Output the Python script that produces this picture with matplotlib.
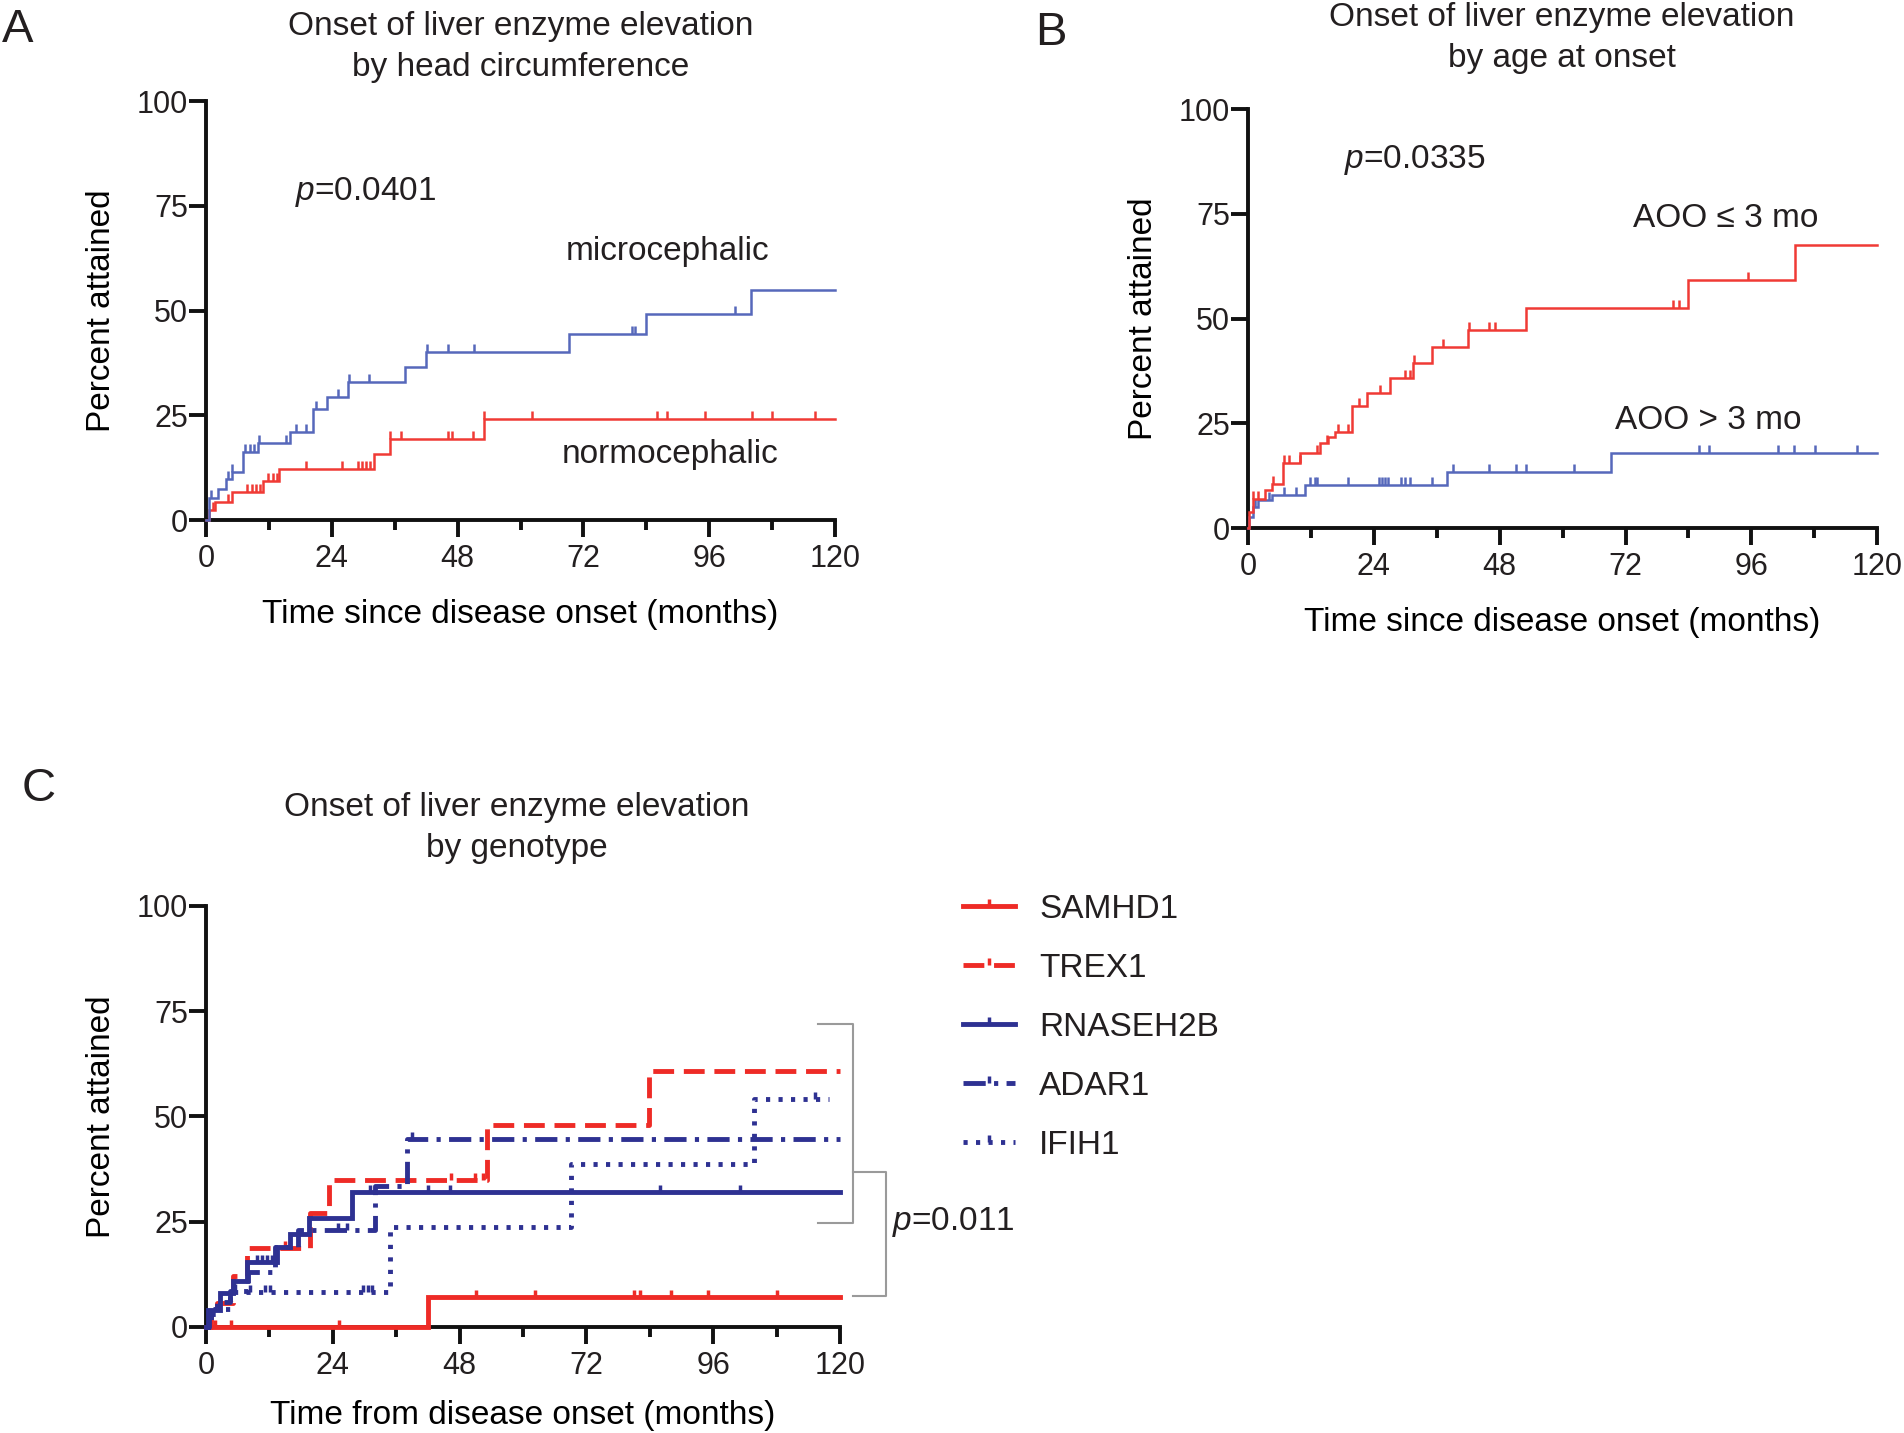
import numpy as np
import matplotlib
matplotlib.use("Agg")
import matplotlib.pyplot as plt
from matplotlib.lines import Line2D

plt.rcParams['font.family'] = ['Liberation Sans', 'DejaVu Sans']
plt.rcParams['mathtext.fontset'] = 'custom'
plt.rcParams['mathtext.it'] = 'Liberation Sans:italic'
plt.rcParams['mathtext.rm'] = 'Liberation Sans'
plt.rcParams['lines.scale_dashes'] = False
plt.rcParams['text.color'] = '#231f20'

# ---- Panel A: head circumference ----
micro_t = [0, 0.6, 2.2, 3.8, 5.0, 7.1, 9.9, 16.0, 20.5, 23.1, 27.1, 37.9, 41.9, 69.2, 84.0, 104.0]
micro_y = [0, 5.2, 7.5, 9.9, 11.5, 16.2, 18.3, 21.0, 26.6, 29.4, 32.9, 36.5, 40.1, 44.3, 49.2, 54.9]
micro_cens = [1.0, 4.1, 5.0, 7.5, 8.3, 9.1, 10.1, 15.3, 17.1, 19.1, 20.9, 25.1, 27.3, 31.1,
              42.1, 46.1, 51.1, 81.2, 81.8, 101.0]
normo_t = [0, 0.5, 1.7, 5.0, 10.9, 14.0, 32.0, 35.1, 53.1]
normo_y = [0, 2.4, 4.4, 6.8, 9.3, 12.1, 15.8, 19.4, 24.1]
normo_cens = [1.4, 4.2, 7.9, 8.7, 9.5, 10.3, 11.9, 12.7, 13.5, 19.1, 26.0, 28.9, 29.7, 30.5, 31.3,
              35.1, 37.1, 46.1, 46.9, 50.9, 53.1, 62.1, 86.0, 88.0, 95.2, 104.2, 108.0, 116.2]

# ---- Panel B: age at onset ----
early_t = [0, 0.1, 1.0, 3.2, 4.5, 6.7, 10.0, 13.7, 15.2, 16.6, 19.8, 22.7, 27.0, 31.5, 35.0, 42.0,
           53.0, 84.0, 104.3]
early_y = [0, 3.9, 7.0, 9.0, 10.6, 15.5, 17.8, 20.2, 21.8, 23.0, 29.2, 32.3, 35.9, 39.5, 43.3, 47.3,
           52.5, 59.3, 67.5]
early_cens = [1.0, 1.8, 4.7, 6.9, 7.9, 9.9, 13.1, 15.1, 17.1, 19.1, 21.1, 25.1, 30.0, 30.8, 31.6,
              37.2, 42.2, 46.0, 47.1, 81.1, 82.2, 95.3]
late_t = [0, 0.2, 1.0, 1.8, 4.5, 10.9, 37.9, 69.2]
late_y = [0, 2.7, 5.0, 6.8, 7.9, 10.2, 13.4, 17.8]
late_cens = [1.4, 3.9, 6.9, 9.1, 11.9, 12.7, 13.1, 19.1, 24.9, 25.5, 26.2, 26.7, 29.2, 30.0, 30.8,
             35.0, 39.0, 46.0, 51.1, 53.1, 62.1, 86.0, 87.9, 101.0, 104.1, 108.1, 116.1]

# ---- Panel C: genotype ----
genotypes = ['SAMHD1', 'TREX1', 'RNASEH2B', 'ADAR1', 'IFIH1']
geno_t = [
    [0, 42.0],
    [0, 1.0, 2.0, 5.2, 7.7, 19.7, 23.2, 53.1, 83.9],
    [0, 0.4, 2.6, 5.2, 7.7, 13.5, 15.9, 19.4, 27.6],
    [0, 0.6, 2.0, 4.5, 8.0, 13.0, 17.5, 32.0, 38.0],
    [0, 1.0, 4.5, 34.8, 69.0, 103.8],
]
geno_y = [
    [0, 7.1],
    [0, 3.0, 5.6, 12.0, 18.7, 27.0, 34.9, 47.9, 60.7],
    [0, 4.0, 8.0, 10.8, 15.5, 19.0, 22.0, 25.8, 32.1],
    [0, 3.0, 6.0, 8.5, 13.0, 19.0, 23.0, 33.5, 44.7],
    [0, 4.2, 8.4, 23.7, 38.8, 54.2],
]
geno_cens = [
    [1.7, 4.7, 25.2, 51.1, 62.2, 81.0, 82.2, 88.0, 95.0, 108.1],
    [15.0, 46.3, 51.0, 52.5],
    [9.6, 10.6, 11.5, 12.4, 31.0, 42.1, 46.2, 86.0, 101.0],
    [5.5, 25.0, 26.7, 39.0],
    [8.3, 11.2, 12.1, 29.8, 30.7, 31.4, 115.3],
]
geno_end = [120, 120, 120, 120, 118]

RED = '#f03a35'
BLUE = '#5668bb'
RED_C = '#ee2b26'
NAVY = '#2e3192'
GRAY = '#9a9a9a'
TICK = [(0, 0), (0, 1)]

geno_colors = [RED_C, RED_C, NAVY, NAVY, NAVY]
geno_styles = ['-', (0, (15, 7)), '-', (0, (16, 6, 3, 6)), (0, (3, 6))]


def km_curve(ax, t, y, cens, t_end, color, ls='-', lw=1.8, ms=11, mew=1.8):
    xs = list(t) + [t_end]
    ys = list(y) + [y[-1]]
    ax.step(xs, ys, where='post', color=color, linestyle=ls, lw=lw,
            solid_joinstyle='miter', clip_on=False, zorder=3)
    idx = np.searchsorted(t, cens, side='right') - 1
    lev = np.asarray(y)[idx]
    ax.plot(cens, lev, linestyle='none', marker=TICK, markersize=ms,
            markeredgewidth=mew, color=color, clip_on=False, zorder=3)


def style_axes(ax, xlabel, xpad=14):
    ax.set_xlim(0, 120)
    ax.set_ylim(0, 100)
    ax.set_xticks([0, 24, 48, 72, 96, 120])
    ax.set_xticks([12, 36, 60, 84, 108], minor=True)
    ax.set_yticks([0, 25, 50, 75, 100])
    for s in ['top', 'right']:
        ax.spines[s].set_visible(False)
    for s in ['left', 'bottom']:
        ax.spines[s].set_linewidth(2.8)
        ax.spines[s].set_color('#111111')
    ax.tick_params(which='major', length=12, width=2.8, labelsize=22, color='#111111',
                   labelcolor='#231f20')
    ax.tick_params(axis='x', which='major', pad=5)
    ax.tick_params(axis='y', which='major', pad=1)
    ax.tick_params(axis='x', which='minor', length=7, width=2.8, color='#111111')
    ax.set_xlabel(xlabel, fontsize=24, labelpad=xpad)
    ax.set_ylabel('Percent attained', fontsize=24, labelpad=14)


fig = plt.figure(figsize=(19.04, 14.33), dpi=100)

# Panel A
axA = fig.add_axes([0.1082, 0.6371, 0.3304, 0.2924])
km_curve(axA, normo_t, normo_y, normo_cens, 120, RED)
km_curve(axA, micro_t, micro_y, micro_cens, 120, BLUE)
style_axes(axA, 'Time since disease onset (months)', xpad=18)
axA.text(17.0, 78.2, r'$\it{p}$=0.0401', fontsize=24, va='center', ha='left')
axA.text(88, 64.0, 'microcephalic', fontsize=24, va='center', ha='center')
axA.text(88.5, 15.6, 'normocephalic', fontsize=24, va='center', ha='center')
fig.text(0.2736, 0.9669, 'Onset of liver enzyme elevation\nby head circumference',
         fontsize=24, ha='center', va='center', linespacing=1.42)
fig.text(0.001, 0.979, 'A', fontsize=34, ha='left', va='center')

# Panel B
axB = fig.add_axes([0.6555, 0.6315, 0.3304, 0.2924])
km_curve(axB, late_t, late_y, late_cens, 120, BLUE)
km_curve(axB, early_t, early_y, early_cens, 120, RED)
style_axes(axB, 'Time since disease onset (months)', xpad=18)
axB.text(18.3, 87.8, r'$\it{p}$=0.0335', fontsize=24, va='center', ha='left')
axB.text(73.4, 73.8, 'AOO \u2264 3 mo', fontsize=24, va='center', ha='left')
axB.text(70.0, 25.6, 'AOO > 3 mo', fontsize=24, va='center', ha='left')
fig.text(0.8204, 0.9737, 'Onset of liver enzyme elevation\nby age at onset',
         fontsize=24, ha='center', va='center', linespacing=1.42)
fig.text(0.5436, 0.977, 'B', fontsize=34, ha='left', va='center')

# Panel C
axC = fig.add_axes([0.1082, 0.0740, 0.3330, 0.2938])
handles = []
for g, t, y, c, e, col, ls in zip(genotypes, geno_t, geno_y, geno_cens, geno_end,
                                   geno_colors, geno_styles):
    km_curve(axC, t, y, c, e, col, ls=ls, lw=3.5, ms=10, mew=2.5)
    handles.append(Line2D([], [], color=col, linestyle=ls, lw=3.5, marker=TICK,
                          markersize=10, markeredgewidth=2.5))
style_axes(axC, 'Time from disease onset (months)')

# significance brackets
axC.plot([115.9, 122.4, 122.4, 115.9], [72.0, 72.0, 24.6, 24.6], color=GRAY, lw=1.5,
         clip_on=False)
axC.plot([122.4, 128.7, 128.7, 122.4], [36.7, 36.7, 7.4, 7.4], color=GRAY, lw=1.5,
         clip_on=False)
axC.text(129.8, 25.0, r'$\it{p}$=0.011', fontsize=24, va='center', ha='left')

leg = axC.legend(handles, genotypes, loc='upper left', bbox_to_anchor=(0.5058, 0.3761),
                 bbox_transform=fig.transFigure, frameon=False, fontsize=24,
                 handlelength=1.56, handletextpad=0.72, labelspacing=0.84,
                 borderpad=0, borderaxespad=0, numpoints=1)
fig.text(0.2715, 0.4219, 'Onset of liver enzyme elevation\nby genotype',
         fontsize=24, ha='center', va='center', linespacing=1.42)
fig.text(0.0116, 0.4494, 'C', fontsize=34, ha='left', va='center')

fig.savefig('out.png', dpi=100)
